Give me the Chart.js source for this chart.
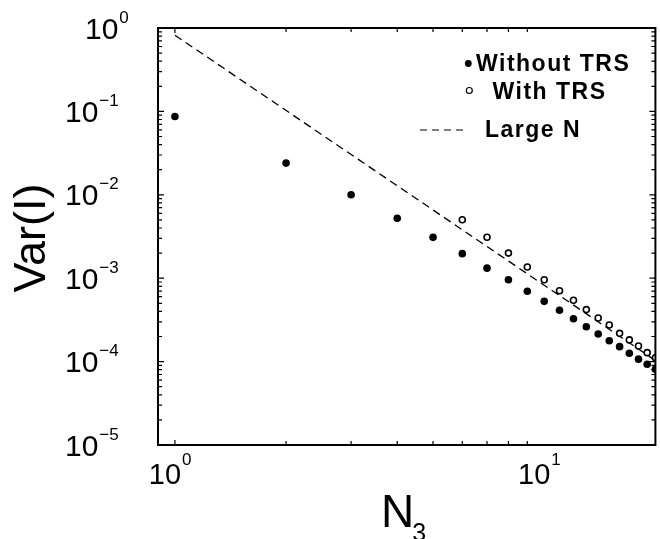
<!DOCTYPE html>
<html>
<head>
<meta charset="utf-8">
<script src="https://cdn.jsdelivr.net/npm/chart.js@4"></script>
<style>
html,body{margin:0;padding:0;background:#fff;}
#wrap{width:660px;height:539px;position:relative;}
</style>
</head>
<body>
<div id="wrap"><canvas id="c" width="660" height="539"></canvas></div>
<script>
// ---- data ----
const nWithout = [1,2,3,4,5,6,7,8,9,10,11,12,13,14,15,16,17,18,19,20];
const varWithout = [0.087,0.024,0.0100,5.23e-3,3.09e-3,1.97e-3,1.32e-3,9.6e-4,6.97e-4,5.28e-4,
                    4.12e-4,3.27e-4,2.62e-4,2.14e-4,1.78e-4,1.51e-4,1.26e-4,1.07e-4,9.3e-5,8.1e-5];
const nWith = [6,7,8,9,10,11,12,13,14,15,16,17,18,19,20];
const varWith = [5.03e-3,3.1e-3,2.0e-3,1.36e-3,9.6e-4,7.08e-4,5.43e-4,4.2e-4,3.33e-4,2.75e-4,
                 2.18e-4,1.82e-4,1.54e-4,1.28e-4,1.11e-4];
const largeNX = [1, 20];
const largeNY = [0.82, 1.03e-4];

const seriesNames = ['Without TRS', 'With TRS', 'Large N'];
const xMajorTicks = [1, 10];
const xTickExp = ['0', '1'];
const xMinorTicks = [2,3,4,5,6,7,8,9];
const yMajorTicks = [1, 0.1, 0.01, 0.001, 1e-4, 1e-5];
const yTickExp = ['0', '\u22121', '\u22122', '\u22123', '\u22124', '\u22125'];
const yMinorMultipliers = [2,3,4,5,6,7,8,9];
const xTitle = 'N', xTitleSub = '3';
const yTitle = 'Var(I)';

const FONT = '"Liberation Sans", Arial, Helvetica, sans-serif';

const toPts = (xs, ys) => xs.map((x, i) => ({x: x, y: ys[i]}));

const decorPlugin = {
  id: 'decor',
  afterDraw(chart) {
    const ctx = chart.ctx;
    const a = chart.chartArea;
    const xs = chart.scales.x, ys = chart.scales.y;
    ctx.save();
    ctx.strokeStyle = '#000';
    ctx.fillStyle = '#000';

    // frame
    ctx.lineWidth = 2;
    ctx.strokeRect(a.left, a.top, a.right - a.left, a.bottom - a.top);

    // tick marks (inward, on all four sides)
    ctx.lineWidth = 1.2;
    ctx.beginPath();
    const xt = [{v: 1, len: 5}].concat(xMinorTicks.map(v => ({v: v, len: 4})));
    xt.forEach(t => {
      const px = xs.getPixelForValue(t.v);
      ctx.moveTo(px, a.bottom); ctx.lineTo(px, a.bottom - t.len);
      ctx.moveTo(px, a.top); ctx.lineTo(px, a.top + t.len);
    });
    const yt = yMajorTicks.map(v => ({v: v, len: 6}));
    yMajorTicks.slice(1).forEach(d => {
      yMinorMultipliers.forEach(m => yt.push({v: d * m, len: 4}));
    });
    yt.forEach(t => {
      const py = ys.getPixelForValue(t.v);
      ctx.moveTo(a.left, py); ctx.lineTo(a.left + t.len, py);
      ctx.moveTo(a.right, py); ctx.lineTo(a.right - t.len, py);
    });
    ctx.stroke();

    // y tick labels 10^e
    ctx.textAlign = 'left';
    ctx.textBaseline = 'alphabetic';
    yMajorTicks.forEach((v, i) => {
      const py = ys.getPixelForValue(v);
      const x0 = (yTickExp[i] === '0') ? 85 : 65;
      ctx.font = '30px ' + FONT;
      ctx.fillText('10', x0, py + 10.5);
      const w = ctx.measureText('10').width;
      ctx.font = '17px ' + FONT;
      ctx.fillText(yTickExp[i], x0 + w + 1, py - 5.5);
    });

    // x tick labels 10^e
    xMajorTicks.forEach((v, i) => {
      const px = xs.getPixelForValue(v);
      ctx.font = '29px ' + FONT;
      const w = ctx.measureText('10').width;
      const x0 = px - 10 - w / 2;
      ctx.fillText('10', x0, 483.5);
      ctx.font = '17px ' + FONT;
      ctx.fillText(xTickExp[i], x0 + w + 1, 465);
    });

    // x title N_3
    ctx.font = '46px ' + FONT;
    ctx.fillText(xTitle, 381, 527);
    const nw = ctx.measureText(xTitle).width;
    ctx.font = '25px ' + FONT;
    ctx.fillText(xTitleSub, 381 + nw - 2, 541);

    // y title
    ctx.save();
    ctx.translate(45, 238);
    ctx.rotate(-Math.PI / 2);
    ctx.font = '45px ' + FONT;
    ctx.textAlign = 'center';
    ctx.fillText(yTitle, 0, 0);
    ctx.restore();

    // legend
    ctx.font = 'bold 23px ' + FONT;
    try { ctx.letterSpacing = '1.5px'; } catch (e) {}
    ctx.textAlign = 'left';
    ctx.fillText(seriesNames[0], 476, 71);
    ctx.fillText(seriesNames[1], 492.5, 98.5);
    ctx.fillText(seriesNames[2], 485, 137);
    try { ctx.letterSpacing = '0px'; } catch (e) {}
    ctx.beginPath();
    ctx.arc(468.3, 63.5, 3.4, 0, Math.PI * 2);
    ctx.fill();
    ctx.beginPath();
    ctx.lineWidth = 1.2;
    ctx.arc(469.3, 90.5, 3, 0, Math.PI * 2);
    ctx.stroke();
    ctx.beginPath();
    ctx.lineWidth = 1.2;
    [420, 432, 444, 456].forEach(x => { ctx.moveTo(x, 130); ctx.lineTo(x + 7, 130); });
    ctx.stroke();

    ctx.restore();
  }
};

new Chart(document.getElementById('c'), {
  type: 'scatter',
  data: {
    datasets: [
      {
        label: seriesNames[0],
        data: toPts(nWithout, varWithout),
        pointRadius: 3.8,
        pointHoverRadius: 3.8,
        backgroundColor: '#000',
        borderColor: '#000',
        borderWidth: 0,
        showLine: false,
        clip: 0
      },
      {
        label: seriesNames[1],
        data: toPts(nWith, varWith),
        pointRadius: 3,
        pointHoverRadius: 3,
        backgroundColor: '#fff',
        borderColor: '#000',
        borderWidth: 1.6,
        showLine: false,
        clip: 0
      },
      {
        label: seriesNames[2],
        data: toPts(largeNX, largeNY),
        showLine: true,
        pointRadius: 0,
        borderColor: '#000',
        borderWidth: 1.3,
        borderDash: [8, 5],
        fill: false,
        clip: 0
      }
    ]
  },
  options: {
    responsive: false,
    animation: false,
    devicePixelRatio: 1,
    layout: { padding: { top: 28, right: 1.5, left: 0, bottom: 0 } },
    plugins: { legend: { display: false }, tooltip: { enabled: false } },
    events: [],
    scales: {
      x: {
        type: 'logarithmic',
        min: 0.9, max: 20,
        ticks: { display: false },
        grid: { display: false },
        border: { display: false },
        title: { display: false },
        afterFit: s => { s.height = 94; }
      },
      y: {
        type: 'logarithmic',
        min: 1e-5, max: 1,
        ticks: { display: false },
        grid: { display: false },
        border: { display: false },
        title: { display: false },
        afterFit: s => { s.width = 158; }
      }
    }
  },
  plugins: [decorPlugin]
});
</script>
</body>
</html>
